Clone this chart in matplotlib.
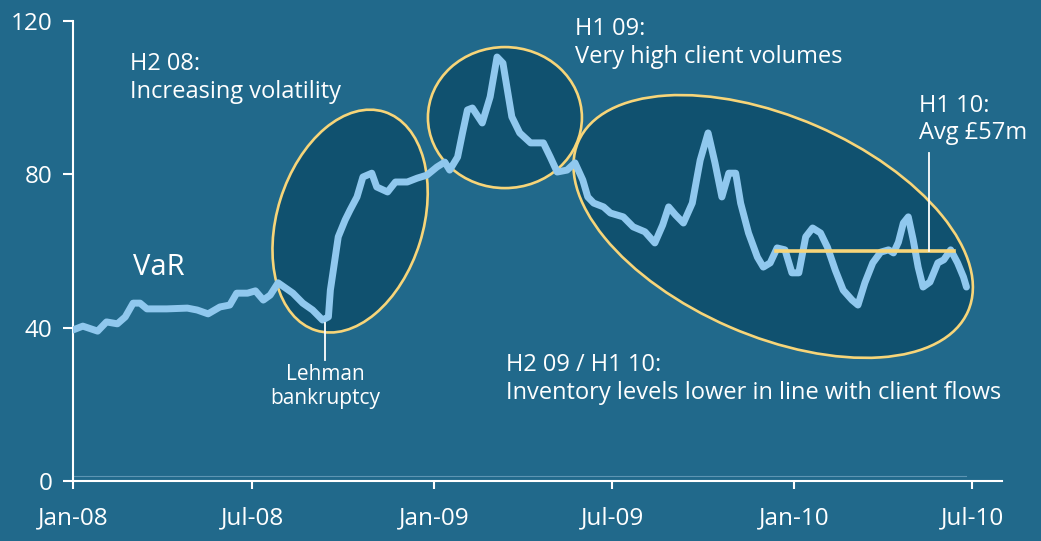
import numpy as np
import pandas as pd
import matplotlib
matplotlib.use('Agg')
import matplotlib.pyplot as plt
import matplotlib.transforms as transforms
from matplotlib.patches import Ellipse

plt.rcParams['font.family'] = ['Open Sans', 'DejaVu Sans']

# VaR series (GBP m); days counted from 1 Jan 2008
days = [0, 10, 25, 34, 45, 53, 61, 68, 75, 95, 116, 126, 137, 149, 159, 166, 177,
        185, 193, 200, 208, 223, 233, 243, 253, 259, 261, 264, 269, 276, 281, 288,
        294, 303, 308, 319, 327, 339, 349, 359, 369, 377, 382, 390, 395, 400, 405,
        415, 423, 430, 436, 441, 445, 453, 464, 477, 484, 491, 501, 509, 517, 522,
        528, 538, 545, 558, 568, 580, 590, 598, 604, 611, 619, 628, 636, 644, 651,
        658, 665, 672, 677, 685, 694, 700, 707, 714, 722, 729, 736, 743, 750, 758,
        765, 773, 781, 790, 796, 803, 811, 819, 827, 832, 837, 842, 847, 852, 857,
        862, 869, 877, 883, 890, 897, 903, 906]
var = [39.4, 40.4, 39.1, 41.5, 41.0, 42.8, 46.4, 46.4, 44.9, 44.9, 45.1, 44.6, 43.6,
       45.4, 45.9, 49.0, 49.0, 49.6, 47.2, 48.5, 51.7, 49.0, 46.4, 44.6, 42.0, 42.8,
       49.8, 55.0, 63.7, 68.1, 70.7, 74.1, 79.3, 80.3, 76.7, 75.4, 78.0, 78.0, 79.0,
       79.8, 81.9, 83.2, 81.1, 84.5, 90.8, 96.8, 97.3, 93.4, 100.2, 110.6, 109.0,
       101.2, 95.0, 90.8, 88.2, 88.2, 84.5, 80.6, 81.1, 83.0, 78.5, 74.1, 72.5, 71.5,
       69.9, 68.9, 66.3, 65.0, 62.1, 66.8, 71.5, 69.4, 67.3, 72.5, 83.7, 90.8, 83.0,
       74.1, 80.3, 80.3, 72.5, 64.7, 58.4, 55.8, 56.9, 60.8, 60.3, 54.3, 54.3, 63.7,
       66.0, 64.7, 61.0, 55.0, 49.8, 47.2, 45.9, 51.7, 56.9, 59.7, 60.3, 59.5, 62.3,
       67.3, 68.9, 62.9, 55.8, 50.6, 51.9, 56.9, 57.7, 60.3, 56.9, 53.2, 50.6]

tick_dates = ['2008-01-01', '2008-07-01', '2009-01-01', '2009-07-01', '2010-01-01', '2010-07-01']
tick_labels = ['Jan-08', 'Jul-08', 'Jan-09', 'Jul-09', 'Jan-10', 'Jul-10']
y_ticks = [0, 40, 80, 120]

start = pd.Timestamp('2008-01-01')
dates = start + pd.to_timedelta(days, unit='D')

# H1 10 average line
avg_start, avg_end, avg_value = 713, 893, 59.9

bg = '#21698b'
dark = '#10516f'
line_col = '#90c8ee'
yellow = '#f7d579'

fig = plt.figure(figsize=(10.41, 5.41), dpi=100, facecolor=bg)
ax = fig.add_axes([0.0701, 0.1109, 0.8924, 0.8503])
ax.set_facecolor(bg)

d = lambda n: start + pd.Timedelta(days=n)

# highlight ellipses: centre (day, value), width/height in inches, angle
ellipses = [(281, 67.8, 1.46, 2.29, -17.4),
            (438, 94.8, 1.54, 1.41, 0),
            (710, 66.4, 4.25, 2.19, -23.5)]
for cx, cy, w, h, ang in ellipses:
    xc = matplotlib.dates.date2num(d(cx))
    trans = fig.dpi_scale_trans + transforms.ScaledTranslation(xc, cy, ax.transData)
    ax.add_patch(Ellipse((0, 0), w, h, angle=ang, transform=trans,
                         facecolor=dark, edgecolor=yellow, lw=1.9, zorder=2))

ax.plot([d(0), d(906)], [1.2, 1.2], color='#5d95b3', lw=0.8, zorder=1)
ax.plot(dates, var, color=line_col, lw=5, solid_joinstyle='round',
        solid_capstyle='round', zorder=3)
ax.plot([d(avg_start), d(avg_end)], [avg_value, avg_value], color=yellow, lw=2.6, zorder=4)
ax.plot([d(868), d(868)], [avg_value, 85.6], color='white', lw=1.3, zorder=5)
ax.plot([d(256), d(256)], [41.2, 31.6], color='white', lw=1.3, zorder=5)

txt = dict(color='white', fontsize=17, linespacing=1.2)
ax.text(d(58), 111.8, 'H2 08:\nIncreasing volatility', va='top', ha='left', **txt)
ax.text(d(509), 121.0, 'H1 09:\nVery high client volumes', va='top', ha='left', **txt)
ax.text(d(858), 101.0, 'H1 10:\nAvg £57m', va='top', ha='left', **txt)
ax.text(d(439), 33.3, 'H2 09 / H1 10:\nInventory levels lower in line with client flows',
        va='top', ha='left', **txt)
ax.text(d(256), 30.4, 'Lehman\nbankruptcy', va='top', ha='center', color='white',
        fontsize=15, linespacing=1.15)
ax.text(d(61), 55.6, 'VaR', va='center', ha='left', color='white', fontsize=21)

ax.set_ylim(0, 120)
ax.set_xlim(d(0), d(942))
ax.set_yticks(y_ticks)
ax.set_xticks(pd.to_datetime(tick_dates))
ax.set_xticklabels(tick_labels)

for s in ['top', 'right']:
    ax.spines[s].set_visible(False)
for s in ['left', 'bottom']:
    ax.spines[s].set_color('white')
    ax.spines[s].set_linewidth(1.5)
ax.tick_params(axis='both', colors='white', labelsize=17.5, width=1.5)
ax.tick_params(axis='y', length=7, pad=8)
ax.tick_params(axis='x', length=6, pad=12)

fig.savefig('out.png', dpi=100, facecolor=bg)
